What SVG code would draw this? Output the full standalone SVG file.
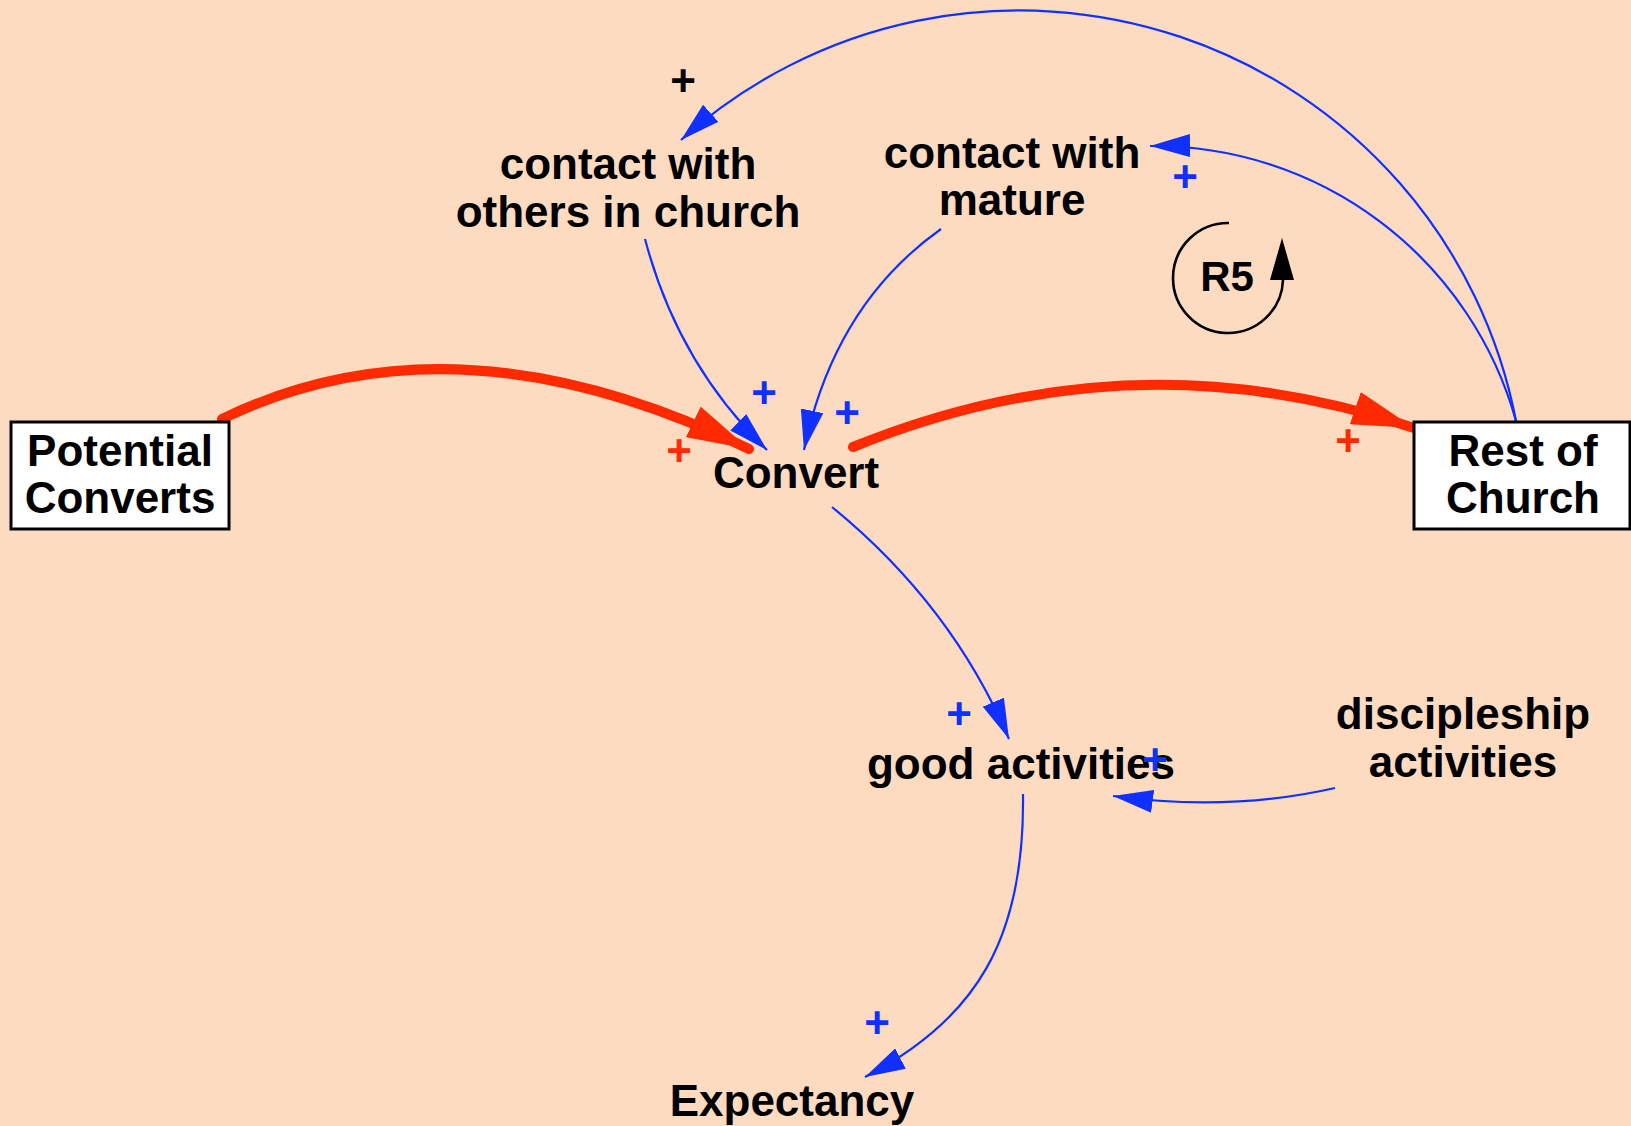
<svg xmlns="http://www.w3.org/2000/svg" width="1631" height="1126" viewBox="0 0 1631 1126">
<style>
.lbl{font-family:"Liberation Sans",Arial,sans-serif;font-weight:bold;font-size:44px;fill:#000;text-anchor:middle}
.pl{font-family:"Liberation Sans",Arial,sans-serif;font-weight:bold;font-size:44px;text-anchor:middle}
.blue{fill:none;stroke:#1030FF;stroke-width:2.2}
.red{fill:none;stroke:#FF2A00;stroke-width:10;stroke-linecap:round}
.box{fill:#fff;stroke:#000;stroke-width:3}
</style>
<defs>
<marker id="ab" markerUnits="userSpaceOnUse" viewBox="0 0 40 23" markerWidth="40" markerHeight="23" refX="40" refY="11.5" orient="auto">
<path d="M0,0 L40,11.5 L0,23 Z" fill="#1030FF"/>
</marker>
<marker id="ar" markerUnits="userSpaceOnUse" viewBox="0 0 62 34" markerWidth="62" markerHeight="34" refX="62" refY="17" orient="auto">
<path d="M0,0 L62,17 L0,34 Z" fill="#FF2A00"/>
</marker>
</defs>
<rect x="0" y="0" width="1631" height="1126" fill="#FCDBC0"/>

<g id="connectors">
<path id="l1" class="red" d="M222,419 Q455,306 749,449" marker-end="url(#ar)"/>
<path id="l2" class="red" d="M853,447 Q1133,333 1414,428" marker-end="url(#ar)"/>
<path id="l3" class="blue" d="M645,239 Q678,364 767,450" marker-end="url(#ab)"/>
<path id="l4" class="blue" d="M941,229 Q834,305 804,450" marker-end="url(#ab)"/>
<path id="l5" class="blue" d="M1516,421 A506,506 0 0 0 681,140" marker-end="url(#ab)"/>
<path id="l6" class="blue" d="M1516,421 A376,376 0 0 0 1150,146" marker-end="url(#ab)"/>
<path id="l7" class="blue" d="M832,507 Q952,605 1009,739" marker-end="url(#ab)"/>
<path id="l8" class="blue" d="M1335,788 Q1230,812 1113,796" marker-end="url(#ab)"/>
<path id="l9" class="blue" d="M1023,794 C1025,940 975,1020 865,1077" marker-end="url(#ab)"/>
</g>

<g id="potential-converts">
<rect class="box" x="11" y="422" width="218" height="107"/>
<text class="lbl" x="120" y="466">Potential</text>
<text class="lbl" x="120" y="513">Converts</text>
</g>
<g id="rest-of-church">
<rect class="box" x="1414" y="422" width="216" height="107"/>
<text class="lbl" x="1523" y="466">Rest of</text>
<text class="lbl" x="1523" y="513">Church</text>
</g>
<g id="convert">
<text class="lbl" x="796" y="488">Convert</text>
</g>
<g id="contact-others">
<text class="lbl" x="628" y="179">contact with</text>
<text class="lbl" x="628" y="227">others in church</text>
</g>
<g id="contact-mature">
<text class="lbl" x="1012" y="168">contact with</text>
<text class="lbl" x="1012" y="215">mature</text>
</g>
<g id="good-activities">
<text class="lbl" x="1021" y="779">good activities</text>
</g>
<g id="discipleship-activities">
<text class="lbl" x="1463" y="729">discipleship</text>
<text class="lbl" x="1463" y="777">activities</text>
</g>
<g id="expectancy">
<text class="lbl" x="792" y="1116">Expectancy</text>
</g>
<g id="loop-r5">
<path d="M1229,223 A55,55 0 1 0 1283,280" fill="none" stroke="#000" stroke-width="2.6"/>
<path d="M1282,238 L1294,280 L1270,280 Z" fill="#000"/>
<text class="lbl" x="1227" y="291" style="font-size:42px">R5</text>
</g>

<g id="polarities">
<text class="pl" x="683" y="96" fill="#000">+</text>
<text class="pl" x="1185" y="192" fill="#1030FF">+</text>
<text class="pl" x="764" y="408" fill="#1030FF">+</text>
<text class="pl" x="847" y="428" fill="#1030FF">+</text>
<text class="pl" x="679" y="466" fill="#FF2A00">+</text>
<text class="pl" x="1348" y="456" fill="#FF2A00">+</text>
<text class="pl" x="959" y="729" fill="#1030FF">+</text>
<text class="pl" x="1155" y="775" fill="#1030FF">+</text>
<text class="pl" x="877" y="1038" fill="#1030FF">+</text>
</g>
</svg>
